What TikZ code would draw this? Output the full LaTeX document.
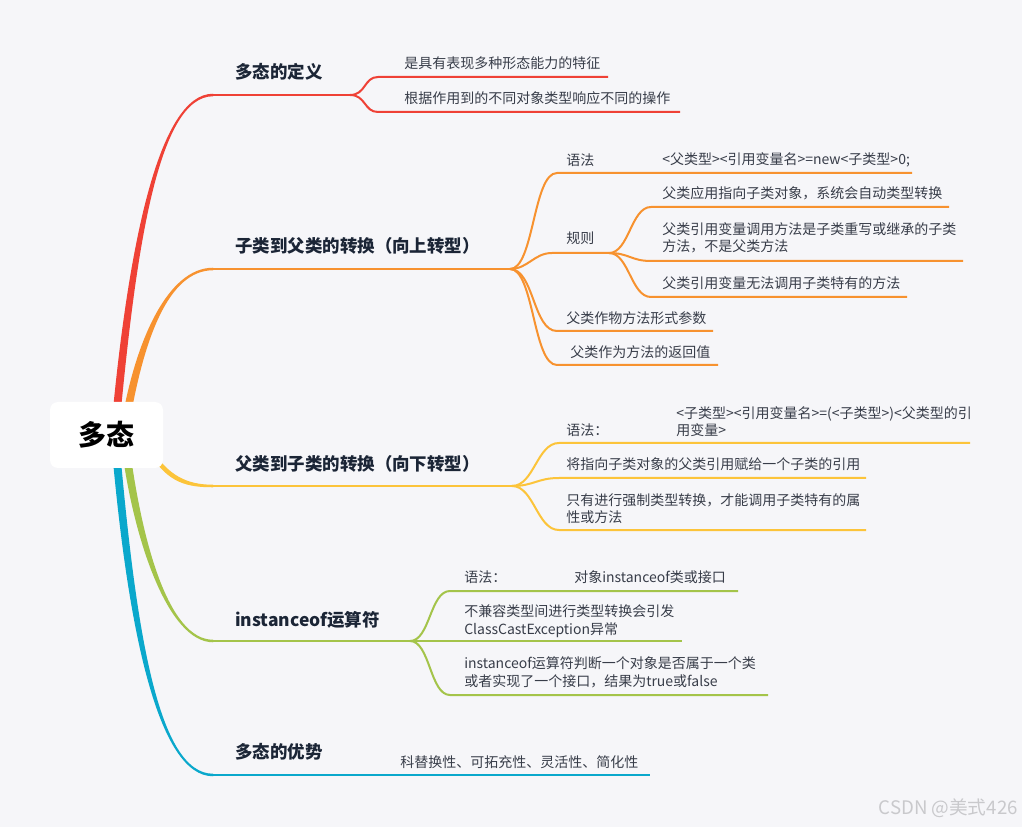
\documentclass[tikz,border=0pt]{standalone}
\usepackage{fontspec}
\setmainfont{Noto Sans CJK SC}
\usetikzlibrary{calc}
\definecolor{bg}{HTML}{F6F6F9}
\definecolor{cred}{HTML}{EF4136}
\definecolor{corange}{HTML}{F7922F}
\definecolor{cyellow}{HTML}{FCC43A}
\definecolor{cgreen}{HTML}{A4C44A}
\definecolor{cblue}{HTML}{0AA8CC}
\definecolor{txt}{HTML}{383D49}
\definecolor{headc}{HTML}{1B2536}
\definecolor{wm}{HTML}{C9C9CC}
\tikzset{
  body/.style={anchor=west, inner sep=0pt, text=txt, font=\fontsize{10.5}{13.2}\selectfont, align=left},
  head/.style={anchor=west, inner sep=0pt, text=headc, font=\bfseries\fontsize{13.1}{16}\selectfont},
  twig/.style={line width=1.5pt},
  bough/.style={line width=1.9pt},
}
\begin{document}
\begin{tikzpicture}[x=0.75pt,y=-0.75pt]
\fill[bg] (0,0) rectangle (1022,827);
\useasboundingbox (0,0) rectangle (1022,827);

% ---------- main branch coordinates ----------
\coordinate (rs) at (116,420); \coordinate (re) at (213,95);  \coordinate (rf) at (350,95);
\coordinate (os) at (126,420); \coordinate (oe) at (213,269); \coordinate (of) at (510,269);
\coordinate (ys) at (150,450); \coordinate (ye) at (213,486); \coordinate (yf) at (512,486);
\coordinate (gs) at (126,450); \coordinate (ge) at (213,641); \coordinate (gf) at (410,641);
\coordinate (bs) at (116,450); \coordinate (be) at (213,775); \coordinate (bf) at (650,775);

% tapered root curves
\fill[cred] ([xshift=-3pt]rs) .. controls +(16,-170) and +(-55,0) .. ([yshift=0.95pt]re)
  -- ([yshift=-0.95pt]re) .. controls +(-55,0) and +(16,-170) .. ([xshift=3pt]rs) -- cycle;
\fill[corange] ([xshift=-3pt]os) .. controls +(14,-80) and +(-45,0) .. ([yshift=0.95pt]oe)
  -- ([yshift=-0.95pt]oe) .. controls +(-45,0) and +(14,-80) .. ([xshift=3pt]os) -- cycle;
\fill[cyellow] ([yshift=2.6pt]ys) .. controls +(18,30) and +(-25,0) .. ([yshift=0.95pt]ye)
  -- ([yshift=-0.95pt]ye) .. controls +(-25,0) and +(18,30) .. ([yshift=-2.6pt]ys) -- cycle;
\fill[cgreen] ([xshift=-3pt]gs) .. controls +(12,90) and +(-45,0) .. ([yshift=-0.95pt]ge)
  -- ([yshift=0.95pt]ge) .. controls +(-45,0) and +(12,90) .. ([xshift=3pt]gs) -- cycle;
\fill[cblue] ([xshift=-3pt]bs) .. controls +(16,180) and +(-55,0) .. ([yshift=-0.95pt]be)
  -- ([yshift=0.95pt]be) .. controls +(-55,0) and +(16,180) .. ([xshift=3pt]bs) -- cycle;

% main horizontal lines
\draw[bough,cred] (re) -- (rf);
\draw[bough,corange] (oe) -- (of);
\draw[bough,cyellow] (ye) -- (yf);
\draw[bough,cgreen] (ge) -- (gf);
\draw[bough,cblue] (be) -- (bf);

% root node
\node[fill=white, rounded corners=6pt, minimum width=113*0.75pt, minimum height=66*0.75pt,
      inner sep=0pt, font=\bfseries\fontsize{21}{24}\selectfont, text=black] (root) at (106.5,435) {多态};

% main labels
\node[head] (h1) at (235,72) {多态的定义};
\node[head] (h2) at (235,246) {子类到父类的转换（向上转型）};
\node[head] (h3) at (235,464) {父类到子类的转换（向下转型）};
\node[head] (h4) at (235,620) {instanceof运算符};
\node[head] (h5) at (235,752) {多态的优势};

% ---------- red children ----------
\coordinate (r1s) at (378,77);  \coordinate (r1e) at (608,77);
\coordinate (r2s) at (378,112); \coordinate (r2e) at (680,112);
\draw[twig,cred] (rf) .. controls +(16,0) and +(-14,0) .. (r1s) -- (r1e);
\draw[twig,cred] (rf) .. controls +(16,0) and +(-14,0) .. (r2s) -- (r2e);
\node[body] (t1) at (404,63) {是具有表现多种形态能力的特征};
\node[body] (t2) at (404,98) {根据作用到的不同对象类型响应不同的操作};

% ---------- orange children ----------
\coordinate (o1s) at (557,173); \coordinate (o1e) at (912,173);
\coordinate (o2s) at (552,253); \coordinate (o2f) at (609,253);
\coordinate (o3s) at (557,331); \coordinate (o3e) at (713,331);
\coordinate (o4s) at (557,365); \coordinate (o4e) at (718,365);
\draw[twig,corange] (of) .. controls +(24,0) and +(-24,0) .. (o1s) -- (o1e);
\draw[twig,corange] (of) .. controls +(18,0) and +(-18,0) .. (o2s) -- (o2f);
\draw[twig,corange] (of) .. controls +(24,0) and +(-24,0) .. (o3s) -- (o3e);
\draw[twig,corange] (of) .. controls +(24,0) and +(-24,0) .. (o4s) -- (o4e);
\node[body] (t3) at (566,160) {语法};
\node[body] (t4) at (662,160) {<父类型><引用变量名>=new<子类型>0;};
\node[body] (t5) at (566,238) {规则};
\node[body] (t6) at (566,318) {父类作物方法形式参数};
\node[body] (t7) at (570,352) {父类作为方法的返回值};
% rule sub-children
\coordinate (q1s) at (651,207); \coordinate (q1e) at (949,207);
\coordinate (q2s) at (651,261); \coordinate (q2e) at (963,261);
\coordinate (q3s) at (651,297); \coordinate (q3e) at (907,297);
\draw[twig,corange] (o2f) .. controls +(20,0) and +(-20,0) .. (q1s) -- (q1e);
\draw[twig,corange] (o2f) .. controls +(20,0) and +(-20,0) .. (q2s) -- (q2e);
\draw[twig,corange] (o2f) .. controls +(20,0) and +(-20,0) .. (q3s) -- (q3e);
\node[body] (t8) at (662,193) {父类应用指向子类对象，系统会自动类型转换};
\node[body] (t9) at (662,238) {父类引用变量调用方法是子类重写或继承的子类\\方法，不是父类方法};
\node[body] (t10) at (662,283) {父类引用变量无法调用子类特有的方法};

% ---------- yellow children ----------
\coordinate (y1s) at (559,443); \coordinate (y1e) at (970,443);
\coordinate (y2s) at (559,478); \coordinate (y2e) at (866,478);
\coordinate (y3s) at (559,530); \coordinate (y3e) at (866,530);
\draw[twig,cyellow] (yf) .. controls +(22,0) and +(-22,0) .. (y1s) -- (y1e);
\draw[twig,cyellow] (yf) .. controls +(22,0) and +(-22,0) .. (y2s) -- (y2e);
\draw[twig,cyellow] (yf) .. controls +(22,0) and +(-22,0) .. (y3s) -- (y3e);
\node[body] (t11) at (566,430) {语法：};
\node[body] (t12) at (676,421.5) {<子类型><引用变量名>=(<子类型>)<父类型的引\\用变量>};
\node[body] (t13) at (566,464) {将指向子类对象的父类引用赋给一个子类的引用};
\node[body] (t14) at (566,508.5) {只有进行强制类型转换，才能调用子类特有的属\\性或方法};

% ---------- green children ----------
\coordinate (g1s) at (450,591); \coordinate (g1e) at (738,591);
\coordinate (g2s) at (450,641); \coordinate (g2e) at (682,641);
\coordinate (g3s) at (450,695); \coordinate (g3e) at (768,695);
\draw[twig,cgreen] (gf) .. controls +(20,0) and +(-20,0) .. (g1s) -- (g1e);
\draw[twig,cgreen] (gf) -- (g2s) -- (g2e);
\draw[twig,cgreen] (gf) .. controls +(20,0) and +(-20,0) .. (g3s) -- (g3e);
\node[body] (t15) at (464,577) {语法：};
\node[body] (t16) at (574,577) {对象instanceof类或接口};
\node[body] (t17) at (464,621) {不兼容类型间进行类型转换会引发\\ClassCastException异常};
\node[body] (t18) at (464,672.5) {instanceof运算符判断一个对象是否属于一个类\\或者实现了一个接口，结果为true或false};

% ---------- blue child ----------
\node[body] (t19) at (400,762) {科替换性、可拓充性、灵活性、简化性};

% watermark
\node[anchor=east, inner sep=0pt, text=wm, font=\fontsize{14}{16}\selectfont] (wmk) at (1018,808) {CSDN @美式426};
\end{tikzpicture}
\end{document}
